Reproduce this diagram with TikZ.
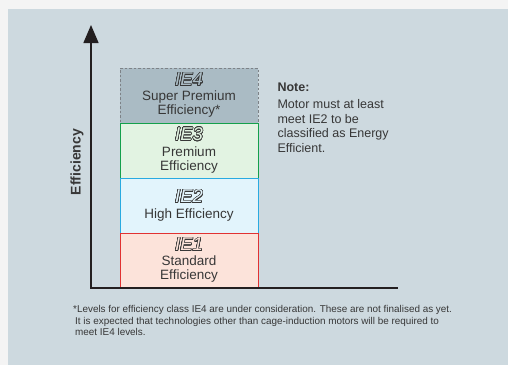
\documentclass[tikz,border=0pt]{standalone}
\usepackage{fontspec}
\setmainfont{Liberation Sans}
\usepackage{contour}
\usetikzlibrary{arrows.meta}

\definecolor{outer}{RGB}{244,244,244}
\definecolor{panel}{RGB}{205,217,223}
\definecolor{textgray}{RGB}{55,55,55}
\definecolor{axisblack}{RGB}{35,31,32}
\definecolor{iefourline}{RGB}{125,130,135}
\definecolor{iefourfill}{RGB}{170,187,196}
\definecolor{iethreeline}{RGB}{20,160,75}
\definecolor{iethreefill}{RGB}{226,243,226}
\definecolor{ietwoline}{RGB}{40,170,225}
\definecolor{ietwofill}{RGB}{226,244,252}
\definecolor{ieoneline}{RGB}{225,50,50}
\definecolor{ieonefill}{RGB}{252,227,218}

\contourlength{0.6pt}
\contournumber{24}
% hollow italic class tag
\newcommand{\ietag}[2]{{\fontsize{18.5}{18.5}\selectfont\itshape\contour{textgray}{\textcolor{#2}{#1}}}}

\begin{document}
\begin{tikzpicture}[x=1pt,y=-1pt]
  \tikzset{class box/.style={draw=#1line,fill=#1fill,line width=1pt,minimum width=138pt,minimum height=55pt,align=center,text=textgray,font=\fontsize{13.5}{14.5}\selectfont}}
  \useasboundingbox[fill=outer] (0,0) rectangle (508,365);
  \fill[panel] (8,9) rectangle (508,365);

  \node [class box=iefour,dash pattern=on 2.5pt off 2pt] (IE4) at (189,95.5) {\ietag{IE4}{iefourfill}\\[0pt]Super Premium\\Efficiency*};
  \node [class box=iethree] (IE3) at (189,150.5) {\ietag{IE3}{iethreefill}\\[1pt]Premium\\Efficiency};
  \node [class box=ietwo] (IE2) at (189,205.5) {\ietag{IE2}{ietwofill}\\[1pt]High Efficiency};
  \node [class box=ieone] (IE1) at (189,260.5) {\ietag{IE1}{ieonefill}\\[0pt]Standard\\Efficiency};

  % axes
  \coordinate (top) at (91,25);
  \coordinate (origin) at (91,288);
  \coordinate (right) at (398,288);
  \draw[axisblack,line width=1.5pt,{Triangle[length=18pt,width=15pt]}-] (top) -- (origin) -- (right);
  \node[rotate=90,text=textgray,font=\bfseries\fontsize{14}{14}\selectfont] (ylabel) at (77,162) {Efficiency};

  \node[anchor=north west,align=left,text=textgray,font=\fontsize{12.5}{14.5}\selectfont] (note) at (274,79) {\textbf{Note:}\\[3pt]Motor must at least\\meet IE2 to be\\classified as Energy\\Efficient.};

  \node[anchor=north west,align=left,text=textgray,inner sep=0pt,font=\fontsize{9.9}{11.8}\selectfont] (footnote) at (73,305) {*Levels for efficiency class IE4 are under consideration. These are not finalised as yet.\\\hspace{2pt}It is expected that technologies other than cage-induction motors will be required to\\\hspace{2pt}meet IE4 levels.};
\end{tikzpicture}
\end{document}
